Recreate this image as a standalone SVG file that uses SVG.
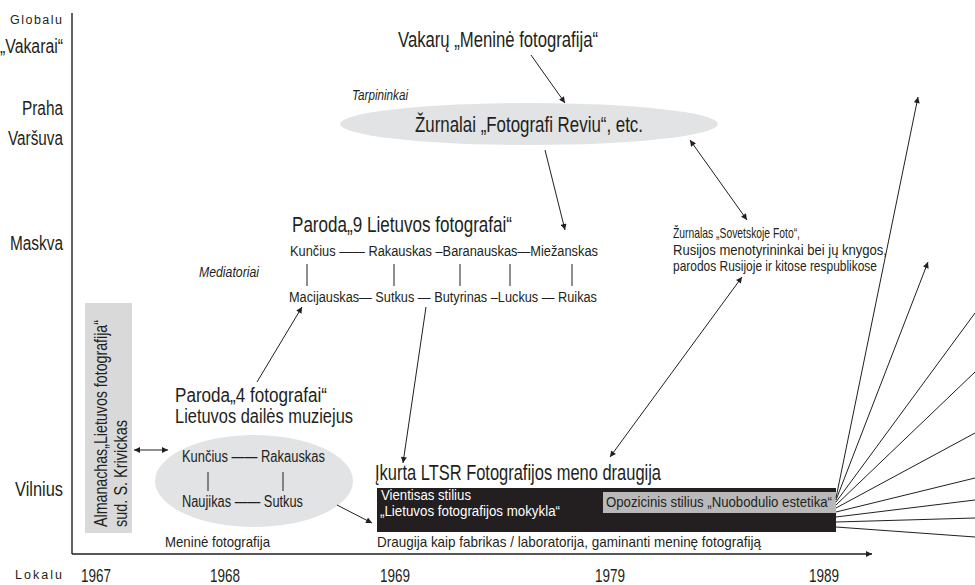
<svg xmlns="http://www.w3.org/2000/svg" width="975" height="585" viewBox="0 0 975 585">
<defs>
<style>
text{font-family:"Liberation Sans Narrow","Liberation Sans",Arial,sans-serif;fill:#231f20}
.it{font-style:italic}
.w{fill:#ffffff}
.ln{stroke:#231f20;stroke-width:1;fill:none}
.ax{stroke:#231f20;stroke-width:1.4;fill:none}
.ar{marker-end:url(#ah)}
.dbl{marker-start:url(#ah);marker-end:url(#ah)}
.blob{fill:#e2e3e4}
</style>
<marker id="ah" viewBox="0 0 10 10" refX="10" refY="5" markerWidth="8" markerHeight="6" orient="auto-start-reverse" markerUnits="userSpaceOnUse"><path d="M0,0 L10,5 L0,10 z" fill="#231f20"/></marker>
</defs>
<rect width="975" height="585" fill="#ffffff"/>

<g id="axes">
<line class="ax" x1="72" y1="13" x2="72" y2="554"/>
<line class="ax ar" x1="72" y1="554" x2="872" y2="554"/>
<text x="10" y="24" font-size="12.5" textLength="52" lengthAdjust="spacing">Globalu</text>
<text x="0" y="53" font-size="20" textLength="63" lengthAdjust="spacingAndGlyphs">„Vakarai“</text>
<text x="22" y="115" font-size="20" textLength="41" lengthAdjust="spacingAndGlyphs">Praha</text>
<text x="8" y="145" font-size="20" textLength="55" lengthAdjust="spacingAndGlyphs">Varšuva</text>
<text x="10" y="250" font-size="20" textLength="53" lengthAdjust="spacingAndGlyphs">Maskva</text>
<text x="15" y="496" font-size="20" textLength="48" lengthAdjust="spacingAndGlyphs">Vilnius</text>
<text x="15" y="579" font-size="12.5" textLength="47" lengthAdjust="spacing">Lokalu</text>
<text x="81" y="582" font-size="19" textLength="30" lengthAdjust="spacingAndGlyphs">1967</text>
<text x="210" y="582" font-size="19" textLength="30" lengthAdjust="spacingAndGlyphs">1968</text>
<text x="380" y="582" font-size="19" textLength="30" lengthAdjust="spacingAndGlyphs">1969</text>
<text x="595" y="582" font-size="19" textLength="30" lengthAdjust="spacingAndGlyphs">1979</text>
<text x="809" y="582" font-size="19" textLength="30" lengthAdjust="spacingAndGlyphs">1989</text>
</g>

<g id="vakaru">
<text x="398" y="47" font-size="21.5" textLength="200" lengthAdjust="spacingAndGlyphs">Vakarų „Meninė fotografija“</text>
</g>

<g id="tarpininkai">
<text class="it" x="352" y="100" font-size="14" textLength="56" lengthAdjust="spacingAndGlyphs">Tarpininkai</text>
<ellipse class="blob" cx="529" cy="124" rx="189" ry="21"/>
<text x="415" y="132" font-size="22" textLength="228" lengthAdjust="spacingAndGlyphs">Žurnalai „Fotografi Reviu“, etc.</text>
</g>

<g id="paroda9">
<text x="292" y="232" font-size="21.5" textLength="220" lengthAdjust="spacingAndGlyphs">Paroda„9 Lietuvos fotografai“</text>
<text x="290" y="256" font-size="15.5" textLength="308" lengthAdjust="spacingAndGlyphs">Kunčius —— Rakauskas –Baranauskas—Miežanskas</text>
<text x="289" y="302" font-size="15.5" textLength="308" lengthAdjust="spacingAndGlyphs">Macijauskas— Sutkus — Butyrinas –Luckus — Ruikas</text>
<path class="ln" d="M307,264V286M394,264V286M460,264V286M510,264V286M572,264V286"/>
</g>

<g id="mediatoriai">
<text class="it" x="199" y="277" font-size="14" textLength="60" lengthAdjust="spacingAndGlyphs">Mediatoriai</text>
</g>

<g id="sovetskoje">
<text x="673" y="238" font-size="15" textLength="127" lengthAdjust="spacingAndGlyphs">Žurnalas „Sovetskoje Foto“,</text>
<text x="673" y="255" font-size="15" textLength="214" lengthAdjust="spacingAndGlyphs">Rusijos menotyrininkai bei jų knygos,</text>
<text x="673" y="271" font-size="15" textLength="204" lengthAdjust="spacingAndGlyphs">parodos Rusijoje ir kitose respublikose</text>
</g>

<g id="paroda4">
<text x="175" y="402" font-size="19.5" textLength="152" lengthAdjust="spacingAndGlyphs">Paroda„4 fotografai“</text>
<text x="175" y="423" font-size="19.5" textLength="178" lengthAdjust="spacingAndGlyphs">Lietuvos dailės muziejus</text>
<ellipse class="blob" cx="254" cy="481" rx="99" ry="46"/>
<text x="182" y="462" font-size="16" textLength="143" lengthAdjust="spacingAndGlyphs">Kunčius —— Rakauskas</text>
<text x="182" y="507" font-size="16" textLength="121" lengthAdjust="spacingAndGlyphs">Naujikas —— Sutkus</text>
<path class="ln" d="M208,472V491M283,472V491"/>
<text x="165" y="547" font-size="15" textLength="105" lengthAdjust="spacingAndGlyphs">Meninė fotografija</text>
</g>

<g id="almanachas">
<rect x="85" y="303" width="47" height="230" fill="#d9d9d9"/>
<text transform="translate(107,527) rotate(-90)" font-size="19" textLength="207" lengthAdjust="spacingAndGlyphs">Almanachas„Lietuvos fotografija“</text>
<text transform="translate(127,527) rotate(-90)" font-size="19" textLength="107" lengthAdjust="spacingAndGlyphs">sud. S. Krivickas</text>
</g>

<g id="draugija">
<text x="375" y="480" font-size="21.5" textLength="286" lengthAdjust="spacingAndGlyphs">Įkurta LTSR Fotografijos meno draugija</text>
<rect x="377" y="488" width="459" height="44" fill="#231f20"/>
<rect x="603" y="492" width="233" height="21" fill="#b9b9b9"/>
<text class="w" x="381" y="500" font-size="14" textLength="90" lengthAdjust="spacingAndGlyphs">Vientisas stilius</text>
<text class="w" x="380" y="516" font-size="14" textLength="180" lengthAdjust="spacingAndGlyphs">„Lietuvos fotografijos mokykla“</text>
<text x="606" y="507" font-size="15" textLength="226" lengthAdjust="spacingAndGlyphs">Opozicinis stilius „Nuobodulio estetika“</text>
<text x="377" y="547" font-size="15" textLength="384" lengthAdjust="spacingAndGlyphs">Draugija kaip fabrikas / laboratorija, gaminanti meninę fotografiją</text>
</g>

<g id="connectors">
<line class="ln ar" x1="531" y1="55" x2="565" y2="103"/>
<line class="ln ar" x1="545" y1="150" x2="565" y2="230"/>
<line class="ln dbl" x1="690" y1="140" x2="747" y2="220"/>
<line class="ln dbl" x1="742" y1="277" x2="610" y2="457"/>
<line class="ln ar" x1="257" y1="382" x2="302" y2="307"/>
<line class="ln ar" x1="426" y1="307" x2="403" y2="463"/>
<line class="ln dbl" x1="134" y1="450" x2="168" y2="450"/>
<line class="ln ar" x1="337" y1="505" x2="372" y2="523"/>
<line class="ln ar" x1="836" y1="498" x2="918" y2="97"/>
<line class="ln ar" x1="836" y1="500" x2="928" y2="262"/>
<line class="ln" x1="836" y1="502" x2="975" y2="313"/>
<line class="ln" x1="836" y1="505" x2="975" y2="372"/>
<line class="ln" x1="836" y1="508" x2="975" y2="433"/>
<line class="ln" x1="836" y1="512" x2="975" y2="478"/>
<line class="ln" x1="836" y1="517" x2="975" y2="500"/>
<line class="ln" x1="836" y1="522" x2="975" y2="518"/>
<line class="ln" x1="836" y1="527" x2="975" y2="537"/>
</g>
</svg>
